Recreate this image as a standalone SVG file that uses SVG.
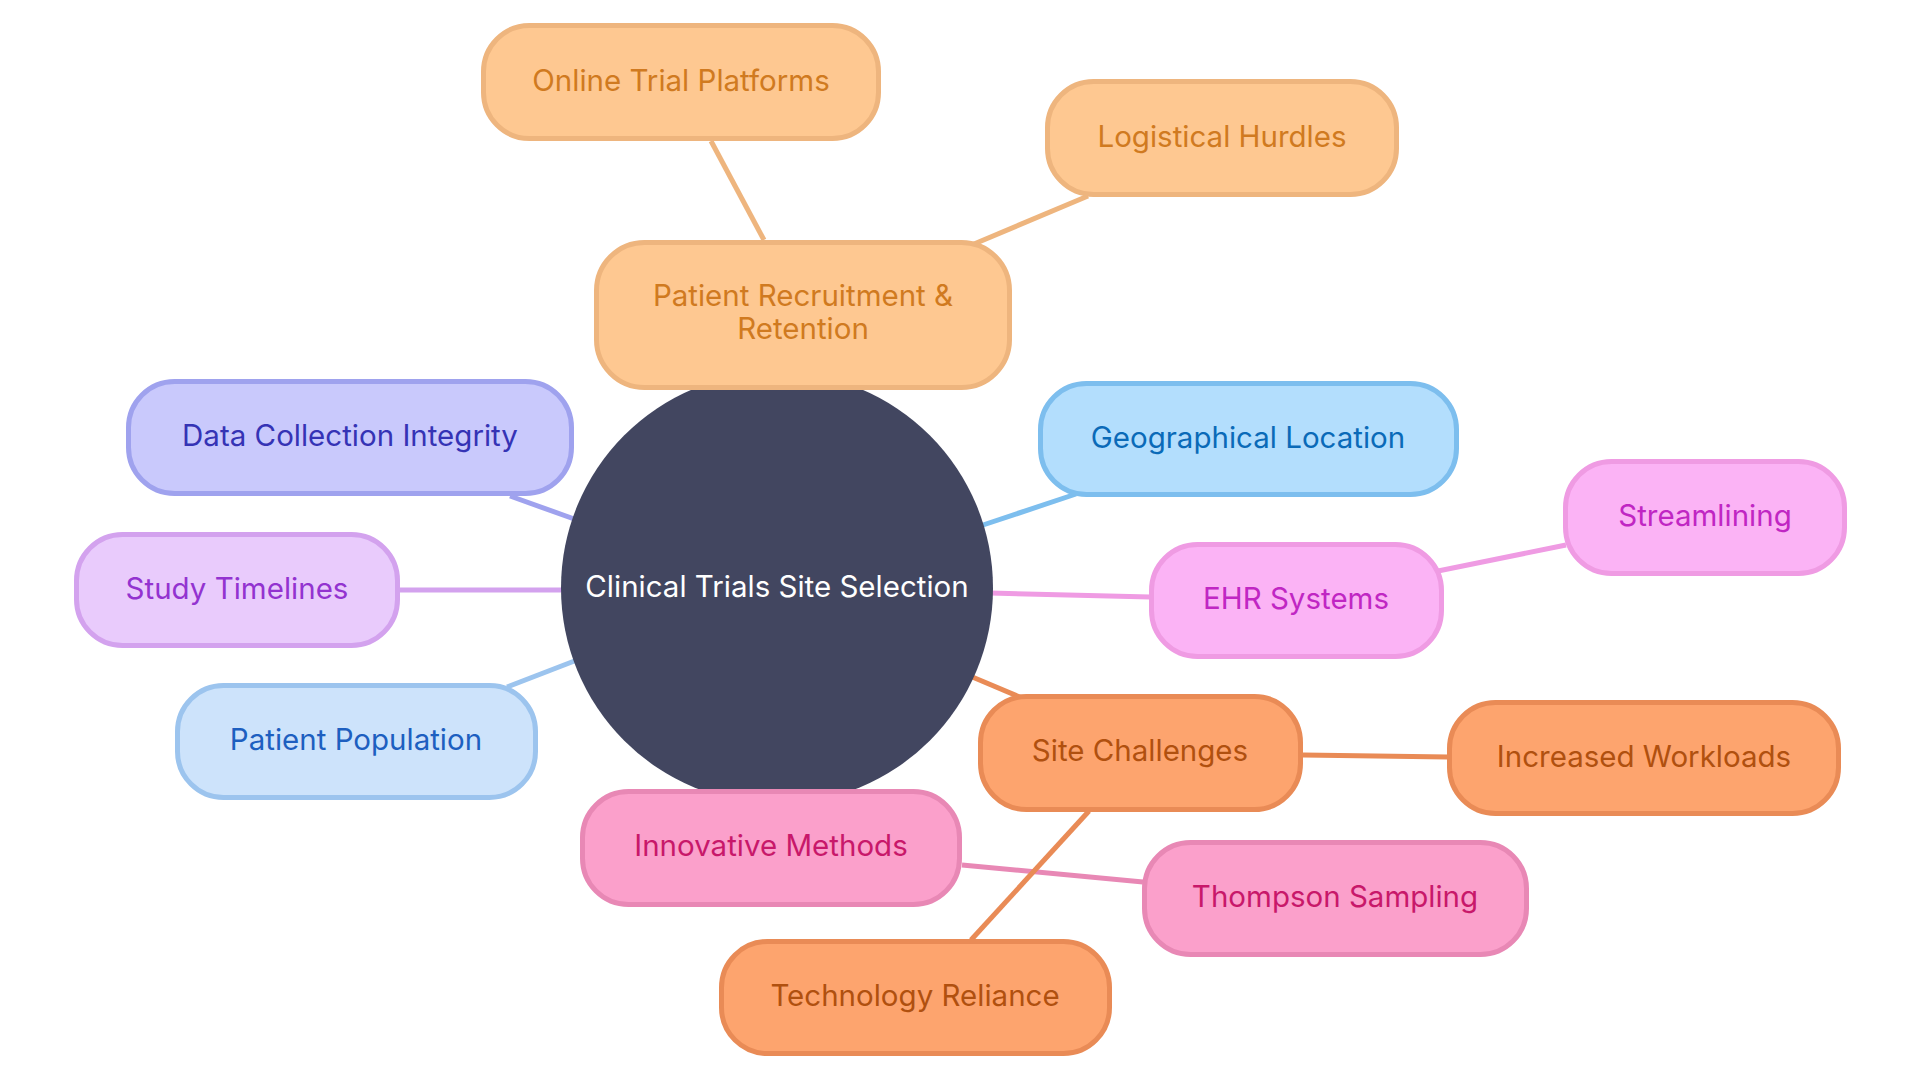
<svg xmlns="http://www.w3.org/2000/svg" width="1920" height="1080" viewBox="0 0 1920 1080">
<style>
  text { font-family: Inter, "Noto Sans", "Liberation Sans", sans-serif; font-size: 29.5px; text-anchor: middle; dominant-baseline: central; }
  .edge { fill: none; stroke-width: 5; stroke-linecap: butt; }
  .box { stroke-width: 5; }
  .orL rect { fill: #FEC891; stroke: #EEB57E; } .orL text { fill: #D07A20; }
  .ind rect { fill: #C9C9FC; stroke: #9FA2EE; } .ind text { fill: #3533B5; }
  .pur rect { fill: #E9CBFC; stroke: #D3A2EE; } .pur text { fill: #9333D0; }
  .sky rect { fill: #CDE3FB; stroke: #9CC4EE; } .sky text { fill: #1D5FC0; }
  .blu rect { fill: #B3DEFD; stroke: #7DBEEE; } .blu text { fill: #0A6AB8; }
  .mag rect { fill: #FBB3F5; stroke: #EF9BE3; } .mag text { fill: #C026C3; }
  .orD rect { fill: #FDA46E; stroke: #E98B56; } .orD text { fill: #B0500F; }
  .pnk rect { fill: #FBA0CB; stroke: #E888B5; } .pnk text { fill: #C8186A; }
</style>
<rect width="1920" height="1080" fill="#FFFFFF"/>
<g id="connectors">
  <line class="edge" stroke="#EEB57E" x1="777" y1="588" x2="803" y2="315"/>
  <line class="edge" stroke="#EEB57E" x1="711" y1="141" x2="764" y2="240"/>
  <line class="edge" stroke="#EEB57E" x1="1088" y1="196" x2="974" y2="244"/>
  <line class="edge" stroke="#9FA2EE" x1="510" y1="496" x2="577" y2="520"/>
  <line class="edge" stroke="#D3A2EE" x1="400" y1="590" x2="565" y2="590"/>
  <line class="edge" stroke="#9CC4EE" x1="507" y1="687" x2="577" y2="660"/>
  <line class="edge" stroke="#7DBEEE" x1="1076" y1="494" x2="980" y2="526"/>
  <line class="edge" stroke="#EF9BE3" x1="990" y1="593" x2="1150" y2="597"/>
  <line class="edge" stroke="#EF9BE3" x1="1438" y1="571" x2="1566" y2="545"/>
  <line class="edge" stroke="#E98B56" x1="970" y1="676" x2="1022" y2="698"/>
  <line class="edge" stroke="#E98B56" x1="1303" y1="755" x2="1448" y2="757"/>
  <line class="edge" stroke="#E888B5" x1="777" y1="588" x2="771" y2="848"/>
  <line class="edge" stroke="#E888B5" x1="962" y1="865" x2="1143" y2="882"/>
  <line class="edge" stroke="#E98B56" x1="1089" y1="811" x2="971" y2="940"/>
</g>
<g id="root">
  <circle cx="777" cy="588" r="216" fill="#424660"/>
  <text x="777" y="586" fill="#FFFFFF">Clinical Trials Site Selection</text>
</g>
<g id="patient-recruitment" class="orL">
  <rect class="box" x="596.5" y="242.5" width="413" height="145" rx="48"/>
  <text x="803" y="295">Patient Recruitment &amp;</text>
  <text x="803" y="328">Retention</text>
</g>
<g id="online-trial-platforms" class="orL">
  <rect class="box" x="483.5" y="25.5" width="395" height="113" rx="46"/>
  <text x="681" y="80">Online Trial Platforms</text>
</g>
<g id="logistical-hurdles" class="orL">
  <rect class="box" x="1047.5" y="81.5" width="349" height="113" rx="46"/>
  <text x="1222" y="136">Logistical Hurdles</text>
</g>
<g id="data-collection-integrity" class="ind">
  <rect class="box" x="128.5" y="381.5" width="443" height="112" rx="46"/>
  <text x="350" y="435">Data Collection Integrity</text>
</g>
<g id="study-timelines" class="pur">
  <rect class="box" x="76.5" y="534.5" width="321" height="111" rx="46"/>
  <text x="237" y="588">Study Timelines</text>
</g>
<g id="patient-population" class="sky">
  <rect class="box" x="177.5" y="685.5" width="358" height="112" rx="46"/>
  <text x="356" y="739">Patient Population</text>
</g>
<g id="geographical-location" class="blu">
  <rect class="box" x="1040.5" y="383.5" width="416" height="111" rx="46"/>
  <text x="1248" y="437">Geographical Location</text>
</g>
<g id="ehr-systems" class="mag">
  <rect class="box" x="1151.5" y="544.5" width="290" height="112" rx="46"/>
  <text x="1296" y="598">EHR Systems</text>
</g>
<g id="streamlining" class="mag">
  <rect class="box" x="1565.5" y="461.5" width="279" height="112" rx="46"/>
  <text x="1705" y="515">Streamlining</text>
</g>
<g id="site-challenges" class="orD">
  <rect class="box" x="980.5" y="696.5" width="320" height="113" rx="46"/>
  <text x="1140" y="750">Site Challenges</text>
</g>
<g id="increased-workloads" class="orD">
  <rect class="box" x="1449.5" y="702.5" width="389" height="111" rx="46"/>
  <text x="1644" y="756">Increased Workloads</text>
</g>
<g id="technology-reliance" class="orD">
  <rect class="box" x="721.5" y="941.5" width="388" height="112" rx="46"/>
  <text x="915" y="995">Technology Reliance</text>
</g>
<g id="innovative-methods" class="pnk">
  <rect class="box" x="582.5" y="791.5" width="377" height="113" rx="46"/>
  <text x="771" y="845">Innovative Methods</text>
</g>
<g id="thompson-sampling" class="pnk">
  <rect class="box" x="1144.5" y="842.5" width="382" height="112" rx="46"/>
  <text x="1335" y="896">Thompson Sampling</text>
</g>
</svg>
